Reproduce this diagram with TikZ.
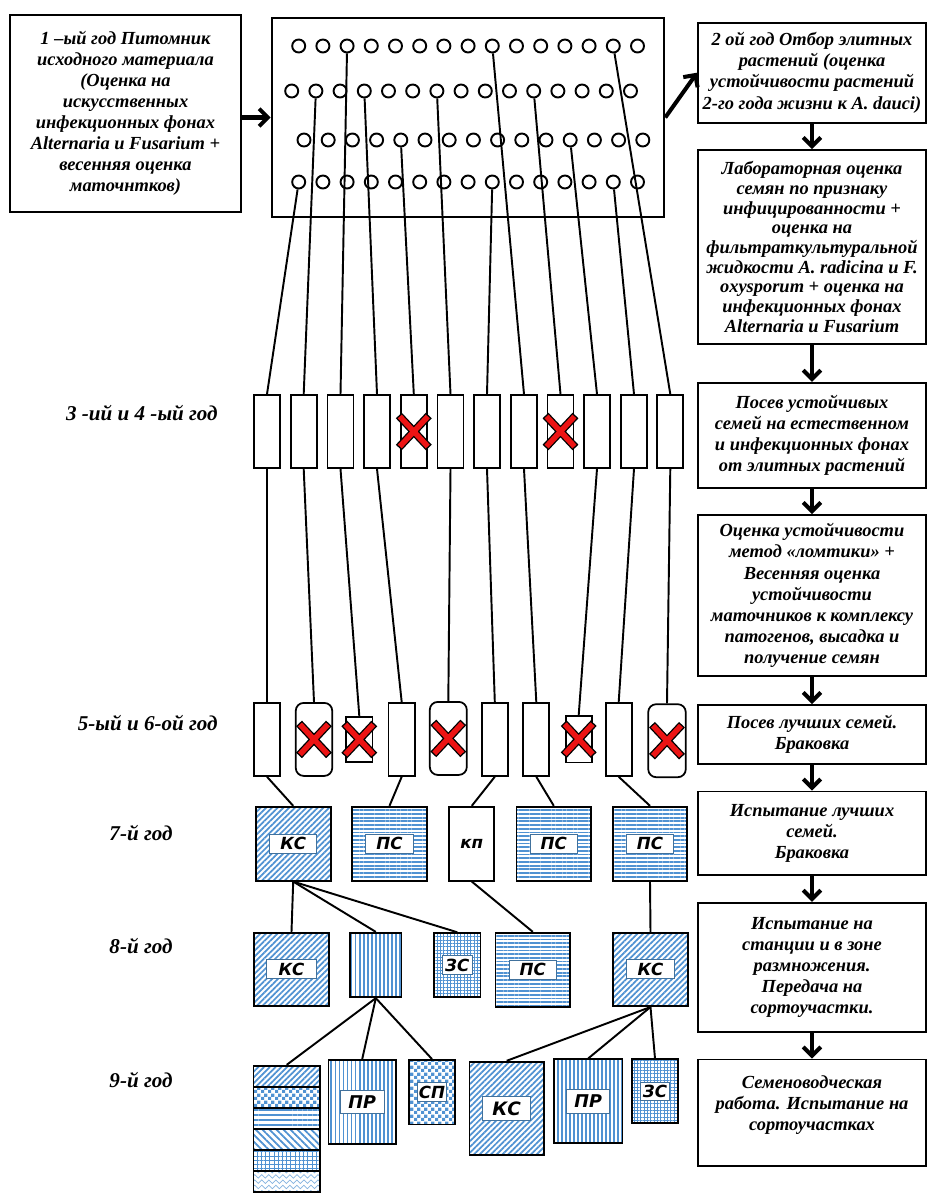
\documentclass[tikz,border=0pt]{standalone}
\usepackage{fontspec}
\setmainfont{Liberation Serif}
\newfontfamily\tagfont{DejaVu Sans}
\usetikzlibrary{arrows.meta,patterns.meta}

\definecolor{pblue}{RGB}{80,146,210}
\definecolor{tagline}{RGB}{65,113,156}
\definecolor{xred}{RGB}{236,20,20}

% wavy fill for the last plot of the mix
\pgfdeclarepatternformonly{waves}{\pgfqpoint{-1pt}{-1pt}}{\pgfqpoint{5pt}{4pt}}{\pgfqpoint{4pt}{3pt}}{%
  \pgfsetlinewidth{0.4pt}%
  \pgfpathmoveto{\pgfqpoint{0pt}{1pt}}%
  \pgfpathlineto{\pgfqpoint{1pt}{2pt}}%
  \pgfpathlineto{\pgfqpoint{3pt}{0pt}}%
  \pgfpathlineto{\pgfqpoint{4pt}{1pt}}%
  \pgfusepath{stroke}}
% small checks
\pgfdeclarepatternformonly{checks}{\pgfpointorigin}{\pgfqpoint{3.8pt}{3.8pt}}{\pgfqpoint{3.8pt}{3.8pt}}{%
  \pgfpathrectangle{\pgfpointorigin}{\pgfqpoint{1.9pt}{1.9pt}}%
  \pgfpathrectangle{\pgfqpoint{1.9pt}{1.9pt}}{\pgfqpoint{1.9pt}{1.9pt}}%
  \pgfusepath{fill}}

\newcommand{\redcross}[1]{%
  \draw[line width=4.6pt] ([shift={(-15,-16)}]#1.center) -- ([shift={(15,16)}]#1.center)
    ([shift={(-15,16)}]#1.center) -- ([shift={(15,-16)}]#1.center);
  \draw[line width=3.1pt,xred] ([shift={(-14,-15)}]#1.center) -- ([shift={(14,15)}]#1.center)
    ([shift={(-14,15)}]#1.center) -- ([shift={(14,-15)}]#1.center);}

\begin{document}
\begin{tikzpicture}[x=0.02cm,y=-0.02cm]
  \tikzstyle{txt}=[font=\bfseries\itshape\fontsize{10.5}{12}\selectfont,align=center]
  \tikzstyle{note}=[txt,draw,line width=1pt,inner sep=0pt]
  \tikzstyle{stage}=[note,minimum width=4.56cm]
  \tikzstyle{field}=[draw,line width=1.5pt,minimum width=7.84cm,minimum height=3.98cm,inner sep=0pt]
  \tikzstyle{dot}=[circle,draw,line width=1.1pt,minimum size=0.26cm,inner sep=0pt]
  \tikzstyle{plot}=[draw,line width=1pt,minimum width=0.52cm,minimum height=1.46cm,inner sep=0pt]
  \tikzstyle{cup}=[plot,rounded corners=4.5pt,minimum width=0.74cm]
  \tikzstyle{bed}=[draw,line width=1pt,inner sep=0pt]
  \tikzstyle{tag}=[draw=tagline,line width=0.6pt,fill=white,inner sep=0pt,minimum width=0.95cm,minimum height=0.38cm,font=\tagfont\bfseries\itshape\fontsize{9.5}{9.5}\selectfont]
  \tikzstyle{year}=[font=\bfseries\itshape\fontsize{12}{14}\selectfont,inner sep=0pt]
  \tikzstyle{link}=[draw,line width=1.1pt]
  \tikzstyle{flow}=[draw,line width=2.3pt,-{Straight Barb[length=5pt,width=10pt,line width=2.3pt]}]
  \tikzstyle{ksfill}=[pattern={Lines[angle=45,distance=2.3pt,line width=1pt]},pattern color=pblue]
  \tikzstyle{psfill}=[pattern={Lines[angle=0,distance=2.1pt,line width=1pt]},pattern color=pblue]
  \tikzstyle{prfill}=[pattern={Lines[angle=90,distance=2.3pt,line width=1pt]},pattern color=pblue]
  \tikzstyle{zsfill}=[pattern={Hatch[distance=1.9pt,line width=0.55pt]},pattern color=pblue]
  \tikzstyle{spfill}=[pattern=checks,pattern color=pblue]
  \tikzstyle{nwfill}=[pattern={Lines[angle=-45,distance=2.8pt,line width=1pt]},pattern color=pblue]
  \tikzstyle{wvfill}=[pattern=waves,pattern color=pblue!70]

  \useasboundingbox (0,0) rectangle (928,1194);

  % year 1: nursery
  \node[note,minimum width=4.62cm,minimum height=3.94cm] (L1) at (125.5,113.5) {1 –ый год Питомник\\исходного материала\\(Оценка на\\искусственных\\инфекционных фонах\\Alternaria и Fusarium +\\весенняя оценка\\маточнтков)};
  \node[field] (field) at (468,117.5) {};
  \foreach \row/\yy/\xs in {1/46/298.7, 2/91/291.7, 3/140/304, 4/182/298.7}
    \foreach \i in {1,...,15}
      \node[dot] (d\row-\i) at ({\xs+(\i-1)*24.2},\yy) {};

  % right column
  \node[stage,minimum height=2cm] (R1) at (812,72.7) {2 ой год Отбор элитных\\растений (оценка\\устойчивости растений\\2-го года жизни к A. dauci)};
  \node[stage,minimum height=3.88cm,font=\bfseries\itshape\fontsize{10.5}{11.2}\selectfont] (R2) at (812,247) {Лабораторная оценка\\семян по признаку\\инфицированности +\\оценка на\\фильтраткультуральной\\жидкости A. radicina и F.\\oxysporum + оценка на\\инфекционных фонах\\Alternaria и Fusarium};
  \node[stage,minimum height=2.11cm] (R3) at (812,435.5) {Посев устойчивых\\семей на естественном\\и инфекционных фонах\\от элитных растений};
  \node[stage,minimum height=3.22cm] (R4) at (812,595.5) {Оценка устойчивости\\метод «ломтики» +\\Весенняя оценка\\устойчивости\\маточников к комплексу\\патогенов, высадка и\\получение семян};
  \node[stage,minimum height=1.18cm] (R5) at (812,734.5) {Посев лучших семей.\\Браковка};
  \node[stage,minimum height=1.67cm] (R6) at (812,833.3) {Испытание лучших\\семей.\\Браковка};
  \node[stage,minimum height=2.58cm] (R7) at (812,967.2) {Испытание на\\станции и в зоне\\размножения.\\Передача на\\сортоучастки.};
  \node[stage,minimum height=2.13cm] (R8) at (812,1112.7) {Семеноводческая\\работа. Испытание на\\сортоучастках\\[-1pt]\mbox{}};

  \draw[flow] (L1.east |- field.west) -- (field.west);
  \draw[flow] (field.east) -- (R1.west);
  \draw[flow] (R1.south) -- (R2.north);
  \draw[flow] (R2.south) -- (R3.north);
  \draw[flow] (R3.south) -- (R4.north);
  \draw[flow] (R4.south) -- (R5.north);
  \draw[flow] (R5.south) -- (R6.north);
  \draw[flow] (R6.south) -- (R7.north);
  \draw[flow] (R7.south) -- (R8.north);

  % year labels
  \node[year,anchor=east] (yr34) at (218,413) {3 -ий и 4 -ый год};
  \node[year,anchor=east] (yr56) at (218,723) {5-ый и 6-ой год};
  \node[year] (yr7) at (141,833) {7-й год};
  \node[year] (yr8) at (141,946) {8-й год};
  \node[year] (yr9) at (141,1080) {9-й год};

  % years 3 and 4
  \foreach \xx [count=\i] in {267,303.7,340.5,377,413.8,450.5,487,524,560.5,597,634,670.3}
    \node[plot] (y34-\i) at (\xx,431.5) {};
  \foreach \r/\i/\t in {4/1/1, 2/2/2, 1/3/3, 2/4/4, 3/5/5, 2/7/6, 4/9/7, 1/9/8, 2/11/9, 3/12/10, 4/14/11, 1/14/12}
    \path[link] (d\r-\i) edge (y34-\t.north);

  % years 5 and 6
  \node[plot] (y56-1) at (267,739.4) {};
  \node[cup,minimum width=0.73cm] (y56-2) at (314,739.4) {};
  \node[plot,minimum width=0.53cm,minimum height=0.91cm] (y56-3) at (359.3,739.5) {};
  \node[plot,minimum width=0.53cm] (y56-4) at (401.7,739.4) {};
  \node[cup] (y56-5) at (448.3,738.4) {};
  \node[plot] (y56-6) at (494.8,739.4) {};
  \node[plot] (y56-7) at (536.3,739.4) {};
  \node[plot,minimum height=0.93cm] (y56-8) at (578.7,739.2) {};
  \node[plot] (y56-9) at (618.7,739.4) {};
  \node[cup,minimum width=0.75cm] (y56-10) at (667,740.7) {};
  \foreach \a/\b in {1/1, 2/2, 3/3, 4/4, 6/5, 7/6, 8/7, 10/8, 11/9, 12/10}
    \path[link] (y34-\a.south) edge (y56-\b.north);

  \redcross{y34-5}
  \redcross{y34-9}
  \foreach \n in {2,3,5,8,10} {\redcross{y56-\n}}

  % year 7
  \node[bed,ksfill,minimum width=1.5cm,minimum height=1.48cm] (ks7) at (293.2,843.7) {};
  \node[bed,psfill,minimum width=1.49cm,minimum height=1.48cm] (ps7a) at (389.5,843.7) {};
  \node[bed,minimum width=0.9cm,minimum height=1.48cm,font=\tagfont\bfseries\itshape\fontsize{9.5}{9.5}\selectfont] (kp7) at (471.8,843.7) {кп};
  \node[bed,psfill,minimum width=1.49cm,minimum height=1.48cm] (ps7b) at (553.8,843.7) {};
  \node[bed,psfill,minimum width=1.47cm,minimum height=1.48cm] (ps7c) at (650,843.7) {};
  \node[tag] (ks7t) at (ks7) {КС};
  \node[tag] (ps7at) at (ps7a) {ПС};
  \node[tag] (ps7bt) at (ps7b) {ПС};
  \node[tag] (ps7ct) at (ps7c) {ПС};

  \path[link] (y56-1.south) edge (ks7.north);
  \path[link] (y56-4.south) edge (ps7a.north);
  \path[link] (y56-6.south) edge (kp7.north);
  \path[link] (y56-7.south) edge (ps7b.north);
  \path[link] (y56-9.south) edge (ps7c.north);

  % year 8
  \node[bed,ksfill,minimum width=1.5cm,minimum height=1.47cm] (ks8a) at (291.5,969.4) {};
  \node[bed,prfill,minimum width=1.03cm,minimum height=1.29cm] (vl8) at (375.8,965) {};
  \node[bed,zsfill,minimum width=0.93cm,minimum height=1.29cm] (zs8) at (457.3,965) {};
  \node[bed,psfill,minimum width=1.49cm,minimum height=1.48cm] (ps8) at (532.8,969.7) {};
  \node[bed,ksfill,minimum width=1.49cm,minimum height=1.47cm] (ks8b) at (650.5,969.4) {};
  \node[tag,minimum width=1cm] (ks8at) at (ks8a) {КС};
  \node[tag,minimum width=0.59cm,minimum height=0.37cm] (zs8t) at (zs8) {ЗС};
  \node[tag] (ps8t) at (ps8) {ПС};
  \node[tag] (ks8bt) at (ks8b) {КС};

  \path[link] (ks7.south) edge (ks8a.north);
  \path[link] (ks7.south) edge (vl8.north);
  \path[link] (ks7.south) edge (zs8.north);
  \path[link] (kp7.south) edge (ps8.north);
  \path[link] (ps7c.south) edge (ks8b.north);

  % year 9
  \node[bed,ksfill,minimum width=1.33cm,minimum height=0.42cm] (mix9-1) at (286.7,1076.2) {};
  \node[bed,spfill,minimum width=1.33cm,minimum height=0.42cm] (mix9-2) at (286.7,1097.2) {};
  \node[bed,pattern={Lines[angle=0,distance=2.8pt,line width=1pt]},pattern color=pblue,minimum width=1.33cm,minimum height=0.42cm] (mix9-3) at (286.7,1118.2) {};
  \node[bed,nwfill,minimum width=1.33cm,minimum height=0.42cm] (mix9-4) at (286.7,1139.2) {};
  \node[bed,pattern={Hatch[distance=2.4pt,line width=0.55pt]},pattern color=pblue,minimum width=1.33cm,minimum height=0.42cm] (mix9-5) at (286.7,1160.2) {};
  \node[bed,wvfill,minimum width=1.33cm,minimum height=0.42cm] (mix9-6) at (286.7,1181.2) {};
  \node[bed,prfill,minimum width=1.35cm,minimum height=1.68cm] (pr9a) at (362.2,1102) {};
  \node[bed,spfill,minimum width=0.93cm,minimum height=1.29cm] (sp9) at (432,1092.2) {};
  \node[bed,ksfill,minimum width=1.49cm,minimum height=1.87cm] (ks9) at (506.7,1108.4) {};
  \node[bed,prfill,minimum width=1.37cm,minimum height=1.68cm] (pr9b) at (588.2,1101.3) {};
  \node[bed,zsfill,minimum width=0.93cm,minimum height=1.28cm] (zs9) at (655,1091.3) {};
  \node[tag,minimum width=0.88cm,minimum height=0.45cm,font=\tagfont\bfseries\itshape\fontsize{10}{10}\selectfont] (pr9at) at (pr9a) {ПР};
  \node[tag,minimum width=0.58cm,minimum height=0.37cm] (sp9t) at (sp9) {СП};
  \node[tag,minimum width=0.95cm,minimum height=0.49cm,font=\tagfont\bfseries\itshape\fontsize{10.5}{10.5}\selectfont] (ks9t) at (ks9) {КС};
  \node[tag,minimum width=0.87cm,minimum height=0.47cm,font=\tagfont\bfseries\itshape\fontsize{10}{10}\selectfont] (pr9bt) at (pr9b) {ПР};
  \node[tag,minimum width=0.57cm,minimum height=0.37cm] (zs9t) at (zs9) {ЗС};

  \path[link] (vl8.south) edge (mix9-1.north);
  \path[link] (vl8.south) edge (pr9a.north);
  \path[link] (vl8.south) edge (sp9.north);
  \path[link] (ks8b.south) edge (ks9.north);
  \path[link] (ks8b.south) edge (pr9b.north);
  \path[link] (ks8b.south) edge (zs9.north);
\end{tikzpicture}
\end{document}
